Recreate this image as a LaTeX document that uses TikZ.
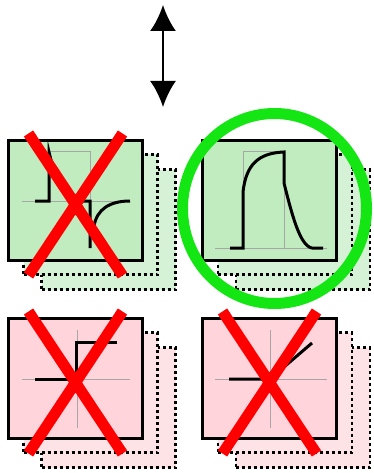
\documentclass[tikz,border=0pt]{standalone}
\usepackage{tikz}
\usetikzlibrary{arrows.meta,calc}

\definecolor{verde}{RGB}{192,236,192}
\definecolor{verdechiaro}{RGB}{214,242,214}
\definecolor{rosa}{RGB}{255,212,218}
\definecolor{rosachiaro}{RGB}{253,226,230}
\definecolor{verdecerchio}{RGB}{20,230,20}

\tikzset{
    pannello/.style={draw, line width=3.5pt, minimum width=134pt, minimum height=120pt, inner sep=0pt},
    ombra/.style={draw, line width=2.8pt, dash pattern=on 3pt off 3pt, minimum width=134pt, minimum height=120pt, inner sep=0pt},
    griglia/.style={gray!70, line width=1pt},
    segnale/.style={black, line width=3pt},
    croce/.style={red, line width=11pt},
}

\newcommand{\croce}[1]{\draw[croce] ($(#1)+(-47,-67)$) -- ($(#1)+(47,75)$) ($(#1)+(47,-67)$) -- ($(#1)+(-47,75)$);}

\begin{document}
\begin{tikzpicture}[x=1pt, y=-1pt, >={Latex[length=26pt, width=26pt]}]
    \useasboundingbox (0,0) rectangle (373,473);

    % Ombre
    \node[ombra, fill=verdechiaro] (tlb) at (108.5,229.5) {};
    \node[ombra, fill=verdechiaro] (tla) at (90.5,214.5) {};
    \node[ombra, fill=verdechiaro] (trb) at (303,229.5) {};
    \node[ombra, fill=verdechiaro] (tra) at (285,214.5) {};
    \node[ombra, fill=rosachiaro] (blb) at (108.5,407.5) {};
    \node[ombra, fill=rosachiaro] (bla) at (90.5,392.5) {};
    \node[ombra, fill=rosachiaro] (brb) at (303,407.5) {};
    \node[ombra, fill=rosachiaro] (bra) at (285,392.5) {};

    % Pannelli
    \node[pannello, fill=verde] (tl) at (75.5,200.5) {};
    \node[pannello, fill=verde] (tr) at (269.5,200.5) {};
    \node[pannello, fill=rosa] (bl) at (75.5,378.5) {};
    \node[pannello, fill=rosa] (br) at (269.5,378.5) {};

    % Griglie
    \draw[griglia] (22,201) -- (130,201);
    \draw[griglia] (49,201) -- (49,152) -- (90,152) -- (90,201);
    \draw[griglia] (215,248) -- (327,248);
    \draw[griglia] (243,248) -- (243,152) -- (284,152) -- (284,248);
    \draw[griglia] (22,379) -- (130,379) (77,330) -- (77,428);
    \draw[griglia] (215,379) -- (327,379) (270,330) -- (270,428);

    % Segnali
    \draw[segnale] (35,201) -- (49,201) -- (49,152) .. controls (55,178) and (64,198) .. (82,201) -- (90,201) -- (90,248);
    \draw[segnale] (94,226) .. controls (97,209) and (110,201) .. (130,201);
    \draw[segnale] (230,248) -- (243,248) -- (243,192) .. controls (246,165) and (258,153) .. (284,152) -- (284,183) .. controls (292,215) and (300,246) .. (312,248) -- (323,248);
    \draw[segnale] (35,379) -- (76,379) -- (76,342) -- (117,342);
    \draw[segnale] (229,379) -- (270,379) -- (312,343);

    % Croci
    \croce{tl}
    \croce{bl}
    \croce{br}

    % Cerchio
    \draw[verdecerchio, line width=11pt] (tr.center) ++(5,8) ellipse [x radius=92, y radius=95];

    % Freccia
    \coordinate (su) at (163,5);
    \coordinate (giu) at (163,107);
    \draw[<->, line width=2.5pt] (su) -- (giu);
\end{tikzpicture}
\end{document}
